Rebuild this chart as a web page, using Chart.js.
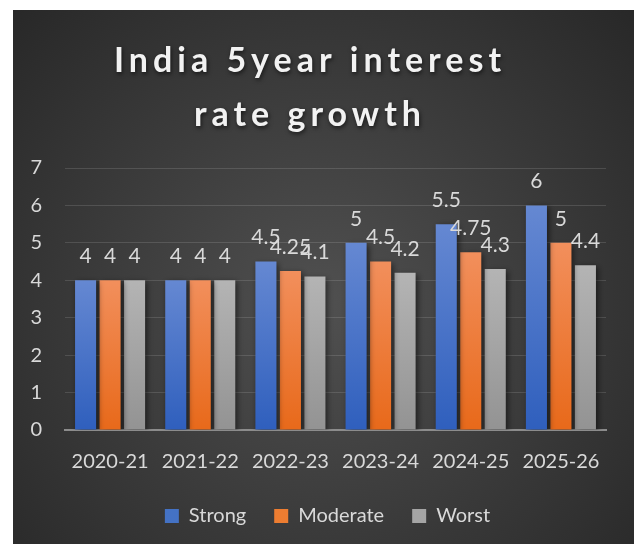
<!DOCTYPE html>
<html>
<head>
<meta charset="utf-8">
<script src="https://cdn.jsdelivr.net/npm/chart.js@4/dist/chart.umd.min.js"></script>
<style>
    html, body { margin: 0; padding: 0; background: #ffffff; }
    #wrap { position: absolute; left: 13px; top: 10px; width: 621px; height: 534px; }
</style>
</head>
<body>
<div id="wrap"><canvas id="rateChart" width="621" height="534"></canvas></div>
<script>
// ─────────────────────────────────────────────
// DATA
// ─────────────────────────────────────────────
const titleLines = ['India 5year interest', 'rate growth'];
const years = ['2020-21', '2021-22', '2022-23', '2023-24', '2024-25', '2025-26'];
const seriesNames = ['Strong', 'Moderate', 'Worst'];
const strongValues = [4, 4, 4.5, 5, 5.5, 6];
const moderateValues = [4, 4, 4.25, 4.5, 4.75, 5];
const worstValues = [4, 4, 4.1, 4.2, 4.3, 4.4];
const yTicks = [0, 1, 2, 3, 4, 5, 6, 7];

const solidColors = ['#4472c4', '#ed7d31', '#a5a5a5'];
const gradientStops = [
    ['#6588d2', '#2f5fbd'],
    ['#f28f5c', '#e8691a'],
    ['#b4b4b4', '#939393']
];

const textColor = '#d9d9d9';
const fontFamily = 'Lato, "Open Sans", sans-serif';


// ─────────────────────────────────────────────
// HELPERS
// ─────────────────────────────────────────────
function barGradient(index) {
    return function (context) {
        const chart = context.chart;
        const y = chart.scales.y;
        if (!y || context.raw === undefined) return solidColors[index];
        const top = y.getPixelForValue(context.raw);
        const bottom = y.getPixelForValue(0);
        if (!isFinite(top) || !isFinite(bottom) || top === bottom) return solidColors[index];
        const g = chart.ctx.createLinearGradient(0, top, 0, bottom);
        g.addColorStop(0, gradientStops[index][0]);
        g.addColorStop(1, gradientStops[index][1]);
        return g;
    };
}

const backgroundPlugin = {
    id: 'darkBackground',
    beforeDraw(chart) {
        const { ctx, width, height } = chart;
        const g = ctx.createRadialGradient(width * 0.5, height * 0.55, 0,
            width * 0.5, height * 0.55, Math.max(width, height) * 0.72);
        g.addColorStop(0, '#505050');
        g.addColorStop(1, '#262626');
        ctx.save();
        ctx.fillStyle = g;
        ctx.fillRect(0, 0, width, height);
        ctx.restore();
    }
};

// legend sits a bit right of centre in the original
const legendShiftPlugin = {
    id: 'legendShift',
    afterLayout(chart) {
        if (!chart.legend) return;
        chart.legend.left += 18;
        chart.legend.right += 18;
    }
};

const shadowPlugin = {
    id: 'barShadow',
    beforeDatasetsDraw(chart) {
        const ctx = chart.ctx;
        ctx.save();
        ctx.shadowColor = 'rgba(0, 0, 0, 0.55)';
        ctx.shadowBlur = 6;
        ctx.shadowOffsetX = 2;
        ctx.shadowOffsetY = 2;
    },
    afterDatasetsDraw(chart) {
        chart.ctx.restore();
    }
};

const valueLabelPlugin = {
    id: 'valueLabels',
    afterDatasetsDraw(chart) {
        const ctx = chart.ctx;
        ctx.save();
        ctx.font = '21px ' + fontFamily;
        ctx.fillStyle = textColor;
        ctx.textAlign = 'center';
        ctx.textBaseline = 'middle';
        chart.data.datasets.forEach((ds, i) => {
            chart.getDatasetMeta(i).data.forEach((bar, j) => {
                ctx.fillText(String(ds.data[j]), bar.x, bar.y - 24);
            });
        });
        ctx.restore();
    }
};

const titlePlugin = {
    id: 'spacedTitle',
    afterDraw(chart) {
        const ctx = chart.ctx;
        ctx.save();
        ctx.font = 'bold 34px ' + fontFamily;
        ctx.letterSpacing = '5px';
        ctx.fillStyle = '#f2f2f2';
        ctx.textAlign = 'center';
        ctx.textBaseline = 'alphabetic';
        ctx.shadowColor = 'rgba(0, 0, 0, 0.6)';
        ctx.shadowBlur = 4;
        ctx.shadowOffsetX = 1;
        ctx.shadowOffsetY = 2;
        titleLines.forEach((line, i) => {
            ctx.fillText(line, 297, 62 + i * 54);
        });
        ctx.restore();
    }
};


// ─────────────────────────────────────────────
// CHART
// ─────────────────────────────────────────────
new Chart(document.getElementById('rateChart').getContext('2d'), {
    type: 'bar',
    data: {
        labels: years,
        datasets: [strongValues, moderateValues, worstValues].map((values, i) => ({
            label: seriesNames[i],
            data: values,
            backgroundColor: barGradient(i),
            borderWidth: 0,
            categoryPercentage: 0.815,
            barPercentage: 0.86
        }))
    },
    options: {
        responsive: false,
        animation: false,
        layout: { padding: { top: 158, right: 28, bottom: 8, left: 0 } },
        scales: {
            x: {
                grid: { display: false },
                border: { display: true, color: '#8c8c8c', width: 2 },
                afterFit(scale) { scale.height = 48; },
                ticks: { color: textColor, font: { family: fontFamily, size: 20 }, padding: 12 }
            },
            y: {
                min: 0,
                max: 7,
                afterBuildTicks(scale) { scale.ticks = yTicks.map(v => ({ value: v })); },
                afterFit(scale) { scale.width = 52; },
                grid: { color: 'rgba(255, 255, 255, 0.13)', lineWidth: 1, drawTicks: false },
                border: { display: false },
                ticks: { color: textColor, font: { family: fontFamily, size: 20 }, padding: 23 }
            }
        },
        plugins: {
            legend: {
                position: 'bottom',
                labels: {
                    color: textColor,
                    font: { family: fontFamily, size: 20 },
                    boxWidth: 14,
                    boxHeight: 14,
                    padding: 28,
                    generateLabels(chart) {
                        return Chart.defaults.plugins.legend.labels.generateLabels(chart)
                            .map((item, i) => Object.assign(item, {
                                fillStyle: solidColors[i],
                                strokeStyle: solidColors[i],
                                lineWidth: 0
                            }));
                    }
                }
            },
            tooltip: { enabled: false }
        }
    },
    plugins: [backgroundPlugin, legendShiftPlugin, shadowPlugin, valueLabelPlugin, titlePlugin]
});
</script>
</body>
</html>
